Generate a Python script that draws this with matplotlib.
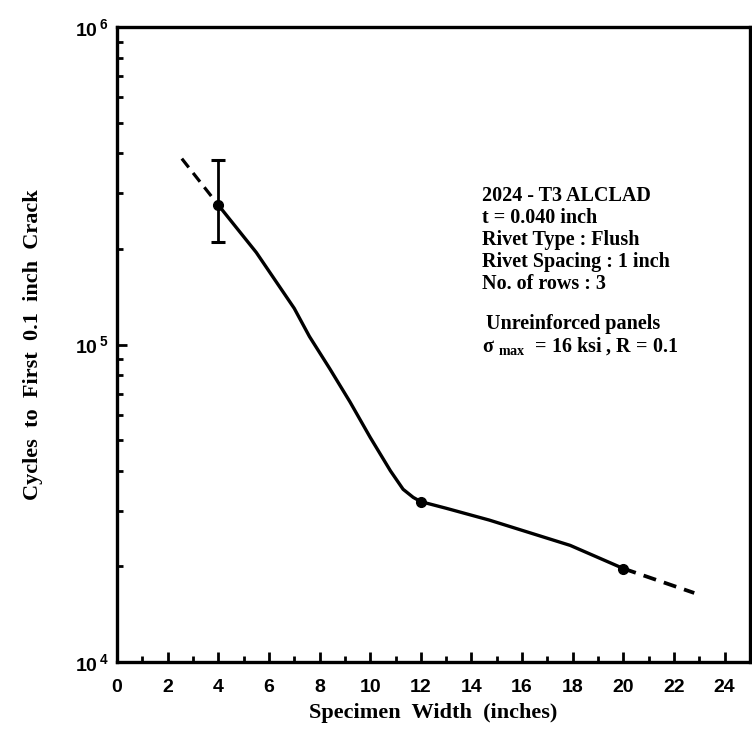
import matplotlib

matplotlib.use("Agg")
import matplotlib.pyplot as plt
from matplotlib.ticker import FixedLocator, LogLocator, NullFormatter

# measured points (specimen width, cycles)
point_x = [4, 12, 20]
point_y = [2.75e5, 3.2e4, 1.97e4]
err_low = [2.1e5]
err_high = [3.8e5]

# solid fitted curve
curve_x = [4, 5.5, 7.0, 7.6, 8.4, 9.2, 10.0, 10.8, 11.3, 11.7, 12, 13.0, 14.7, 17.9, 20]
curve_y = [2.75e5, 1.95e5, 1.3e5, 1.06e5, 8.4e4, 6.6e4, 5.1e4, 4.0e4, 3.5e4, 3.3e4,
           3.2e4, 3.05e4, 2.8e4, 2.33e4, 1.97e4]

# dashed extrapolations
left_x = [2.56, 4]
left_y = [3.85e5, 2.75e5]
right_x = [20, 22.8]
right_y = [1.97e4, 1.65e4]

x_ticks = list(range(0, 25, 2))
y_ticks = [1e4, 1e5, 1e6]
y_labels = [r"$\mathbf{10^{\,4}}$", r"$\mathbf{10^{\,5}}$", r"$\mathbf{10^{\,6}}$"]

note_lines = [
    "2024 - T3 ALCLAD",
    "t = 0.040 inch",
    "Rivet Type : Flush",
    "Rivet Spacing : 1 inch",
    "No. of rows : 3",
]

SERIF = "Liberation Serif"
SANS = "Liberation Sans"
plt.rcParams["mathtext.fontset"] = "custom"
plt.rcParams["mathtext.rm"] = SERIF + ":bold"
plt.rcParams["mathtext.bf"] = SANS + ":bold"

fig = plt.figure(figsize=(7.52, 7.36), dpi=100)
ax = fig.add_axes([0.1556, 0.1005, 0.8417, 0.8628])
ax.set_yscale("log")
ax.set_xlim(0, 25)
ax.set_ylim(1e4, 1e6)

ax.plot(curve_x, curve_y, color="black", lw=2.4, solid_joinstyle="round")
ax.plot(left_x, left_y, color="black", lw=2.3, dashes=(3.5, 2.2))
ax.plot(right_x, right_y, color="black", lw=2.7, dashes=(3.5, 2.2))
ax.plot(point_x, point_y, "o", color="black", ms=7)
ax.errorbar([point_x[0]], [point_y[0]],
            yerr=[[point_y[0] - err_low[0]], [err_high[0] - point_y[0]]],
            fmt="none", ecolor="black", elinewidth=2, capsize=5, capthick=2.2)

for side in ["left", "bottom", "top", "right"]:
    ax.spines[side].set_linewidth(2.4)

ax.xaxis.set_major_locator(FixedLocator(x_ticks))
ax.xaxis.set_minor_locator(FixedLocator(range(1, 25, 2)))
ax.yaxis.set_major_locator(FixedLocator(y_ticks))
ax.yaxis.set_minor_locator(LogLocator(base=10, subs=range(2, 10)))
ax.yaxis.set_minor_formatter(NullFormatter())
ax.set_yticklabels(y_labels)
ax.tick_params(which="both", direction="in", top=False, right=False, color="black")
ax.tick_params(which="major", length=7, width=2)
ax.tick_params(which="minor", length=4, width=2)
ax.tick_params(axis="x", which="major", pad=12, labelsize=14)
ax.tick_params(axis="y", which="major", pad=6, labelsize=14)
for lbl in ax.get_xticklabels():
    lbl.set_fontfamily(SANS)
    lbl.set_fontweight("bold")

ax.set_xlabel("Specimen  Width  (inches)", fontfamily=SERIF, fontweight="bold",
              fontsize=16, labelpad=5)
ax.set_ylabel("Cycles  to  First  0.1  inch  Crack", fontfamily=SERIF,
              fontweight="bold", fontsize=16, labelpad=23)

ax.text(0.577, 0.749, "\n".join(note_lines), transform=ax.transAxes,
        fontfamily=SERIF, fontweight="bold", fontsize=14.5, va="top", ha="left",
        linespacing=1.12)
ax.text(0.583, 0.548, "Unreinforced panels", transform=ax.transAxes,
        fontfamily=SERIF, fontweight="bold", fontsize=14.5, va="top", ha="left")
ax.text(0.577, 0.515, r"σ $_{\mathrm{max}}$  = 16 ksi , R = 0.1",
        transform=ax.transAxes, fontfamily=SERIF, fontweight="bold", fontsize=14.5,
        va="top", ha="left")

fig.savefig("out.png", dpi=100)
